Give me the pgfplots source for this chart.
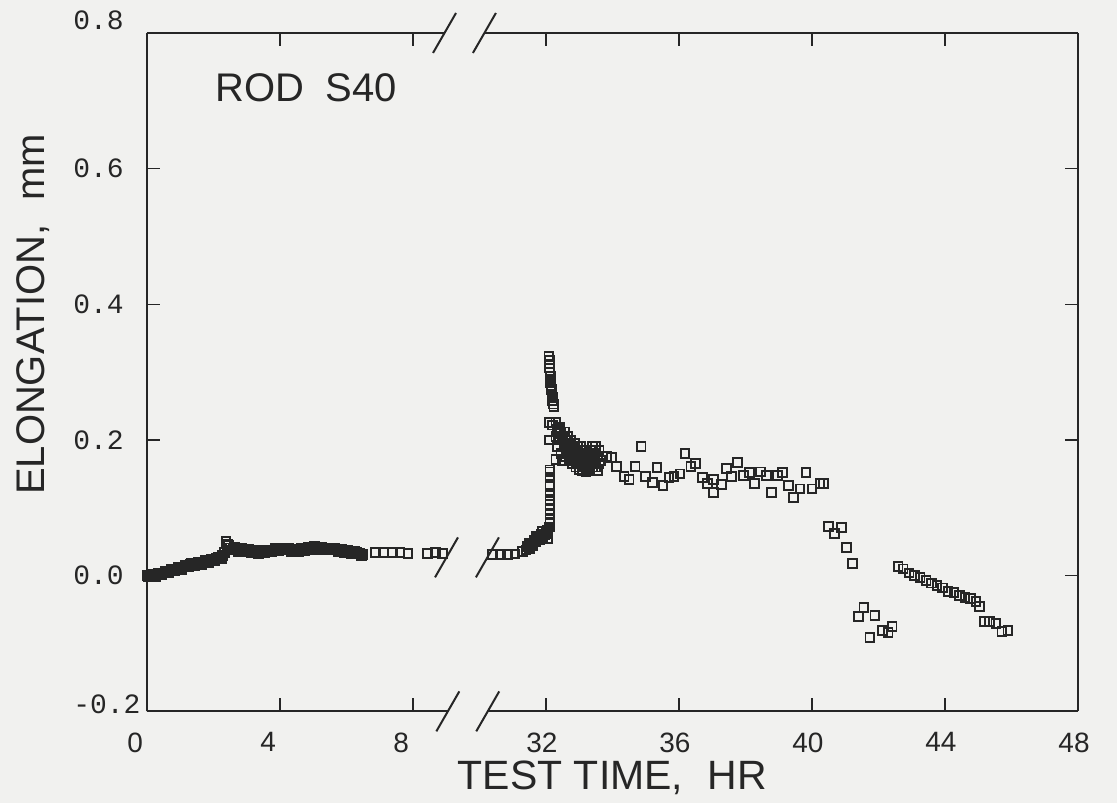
\documentclass[border=0pt]{standalone}
\usepackage{pgfplots}
\pgfplotsset{compat=1.18}
\usepackage{fontspec}
\setmainfont{Liberation Sans}
\newfontfamily\monofont{Liberation Mono}
\definecolor{ink}{gray}{0.15}
\definecolor{paper}{RGB}{241,241,239}

\pgfplotstableread{
hr val
0.00 0.000
0.05 -0.002
0.10 0.000
0.15 0.002
0.20 0.001
0.25 -0.001
0.30 0.001
0.35 0.003
0.40 0.003
0.45 0.001
0.50 0.004
0.55 0.006
0.60 0.006
0.65 0.004
0.70 0.007
0.75 0.009
0.80 0.009
0.85 0.007
0.90 0.010
0.95 0.012
1.00 0.011
1.05 0.009
1.10 0.013
1.15 0.015
1.20 0.015
1.25 0.013
1.30 0.016
1.35 0.018
1.40 0.017
1.45 0.015
1.50 0.018
1.55 0.020
1.60 0.019
1.65 0.017
1.70 0.020
1.75 0.022
1.80 0.021
1.85 0.019
1.90 0.022
1.95 0.024
2.00 0.024
2.05 0.022
2.10 0.025
2.15 0.027
2.20 0.027
2.25 0.025
2.28 0.030
2.33 0.034
2.38 0.050
2.42 0.046
2.45 0.044
2.50 0.041
2.55 0.038
2.60 0.040
2.65 0.042
2.70 0.039
2.75 0.036
2.80 0.038
2.85 0.040
2.90 0.038
2.95 0.035
3.00 0.037
3.05 0.039
3.10 0.036
3.15 0.034
3.20 0.035
3.25 0.037
3.30 0.035
3.35 0.033
3.40 0.035
3.45 0.037
3.50 0.036
3.55 0.034
3.60 0.036
3.65 0.038
3.70 0.037
3.75 0.035
3.80 0.038
3.85 0.040
3.90 0.039
3.95 0.037
4.00 0.039
4.05 0.041
4.10 0.040
4.15 0.038
4.20 0.039
4.25 0.041
4.30 0.038
4.35 0.036
4.40 0.037
4.45 0.039
4.50 0.038
4.55 0.036
4.60 0.038
4.65 0.040
4.70 0.039
4.75 0.037
4.80 0.040
4.85 0.042
4.90 0.041
4.95 0.039
5.00 0.041
5.05 0.043
5.10 0.040
5.15 0.038
5.20 0.041
5.25 0.042
5.30 0.040
5.35 0.038
5.40 0.039
5.45 0.041
5.50 0.040
5.55 0.038
5.60 0.039
5.65 0.041
5.70 0.038
5.75 0.036
5.80 0.037
5.85 0.039
5.90 0.036
5.95 0.034
6.00 0.036
6.05 0.037
6.10 0.035
6.15 0.033
6.20 0.035
6.25 0.036
6.30 0.034
6.35 0.032
6.40 0.033
6.45 0.030
6.50 0.031
6.87 0.034
7.11 0.034
7.38 0.034
7.61 0.034
7.85 0.033
8.44 0.033
8.67 0.034
8.89 0.033
30.39 0.031
30.63 0.031
30.84 0.031
31.07 0.032
31.30 0.036
31.40 0.038
31.45 0.043
31.50 0.040
31.50 0.048
31.55 0.044
31.60 0.045
31.65 0.052
31.70 0.050
31.70 0.058
31.75 0.055
31.80 0.053
31.85 0.061
31.90 0.057
31.90 0.065
31.95 0.060
32.00 0.062
32.05 0.067
32.05 0.055
32.10 0.072
32.12 0.078
32.12 0.083
32.12 0.090
32.12 0.097
32.12 0.105
32.12 0.112
32.12 0.122
32.12 0.131
32.12 0.134
32.12 0.145
32.12 0.153
32.12 0.156
32.30 0.171
32.10 0.200
32.10 0.226
32.09 0.323
32.10 0.318
32.11 0.312
32.11 0.306
32.12 0.300
32.13 0.294
32.13 0.289
32.14 0.284
32.15 0.279
32.16 0.274
32.18 0.268
32.19 0.263
32.20 0.258
32.22 0.253
32.24 0.249
32.20 0.222
32.30 0.226
32.30 0.205
32.35 0.215
32.40 0.218
32.40 0.200
32.45 0.210
32.50 0.205
32.55 0.212
32.55 0.195
32.60 0.200
32.65 0.205
32.65 0.185
32.70 0.195
32.75 0.200
32.75 0.180
32.80 0.190
32.85 0.195
32.85 0.172
32.90 0.185
32.95 0.190
32.95 0.168
33.00 0.180
33.05 0.190
33.05 0.165
33.10 0.175
33.15 0.185
33.15 0.160
33.20 0.170
33.25 0.180
33.25 0.158
33.30 0.165
33.35 0.175
33.35 0.185
33.40 0.160
33.45 0.170
33.45 0.180
33.50 0.160
33.55 0.175
33.55 0.155
33.60 0.165
33.65 0.170
33.50 0.190
33.60 0.185
33.40 0.190
32.35 0.190
32.45 0.180
32.50 0.170
32.60 0.175
32.70 0.170
32.80 0.165
32.90 0.160
33.00 0.157
33.10 0.155
33.20 0.153
33.30 0.155
32.70 0.185
32.90 0.175
33.83 0.176
33.98 0.174
34.13 0.161
34.35 0.146
34.50 0.142
34.68 0.161
34.86 0.190
35.00 0.146
35.20 0.137
35.34 0.159
35.52 0.133
35.70 0.145
35.85 0.146
36.03 0.150
36.18 0.180
36.36 0.161
36.50 0.165
36.70 0.145
36.85 0.136
37.03 0.142
37.03 0.123
37.27 0.134
37.42 0.158
37.58 0.146
37.76 0.167
37.94 0.148
38.12 0.152
38.27 0.136
38.45 0.153
38.64 0.148
38.79 0.123
38.97 0.148
39.12 0.152
39.30 0.133
39.45 0.115
39.64 0.128
39.82 0.152
40.00 0.128
40.24 0.136
40.34 0.136
40.49 0.073
40.67 0.062
40.89 0.071
41.04 0.042
41.22 0.018
41.40 -0.060
41.56 -0.047
41.74 -0.091
41.89 -0.059
42.11 -0.081
42.29 -0.084
42.41 -0.075
42.59 0.014
42.74 0.010
42.92 0.004
43.09 0.000
43.25 -0.003
43.43 -0.007
43.60 -0.011
43.76 -0.014
43.93 -0.018
44.09 -0.023
44.27 -0.025
44.44 -0.029
44.60 -0.032
44.77 -0.034
44.93 -0.038
45.03 -0.045
45.19 -0.068
45.34 -0.068
45.53 -0.070
45.71 -0.082
45.89 -0.081
}\rodS

\begin{document}
\begin{tikzpicture}
\path[use as bounding box, fill=paper] (-73.5pt,-46pt) rectangle (485.5pt,356pt);
\begin{axis}[
  at={(0pt,0pt)}, anchor=south west,
  scale only axis, width=466pt, height=339.5pt,
  xmin=0, xmax=28, ymin=-0.2, ymax=0.8,
  xtick={0,4,...,28}, xticklabels={0,4,8,32,36,40,44,48},
  ytick={-0.2,0,0.2,0.4,0.6,0.8},
  yticklabels={\raisebox{3.5pt}[\height][\depth]{-0.2},0.0,0.2,0.4,0.6,\raisebox{6.5pt}[\height][\depth]{0.8}},
  axis line style={draw=none},
  tick style={ink, line width=0.7pt},
  major tick length=6.5pt,
  tick align=inside,
  xticklabel style={font=\fontsize{14}{14}\selectfont, text=ink, anchor=north west, inner sep=0pt, xshift=-10pt, yshift=-10.5pt},
  yticklabel style={font=\monofont\fontsize{14}{14}\selectfont, text=ink, anchor=west, inner sep=0pt, xshift=-37pt},
  clip=false,
  x filter/.expression={x>20 ? x-20 : x},
]
\addplot[only marks, mark=square, mark size=2.2pt, mark options={draw=ink, line width=0.95pt}] table[x=hr, y=val] {\rodS};

% frame with breaks
\draw[ink, line width=0.9pt] (axis cs:0,-0.2) -- (axis cs:0,0.8);
\draw[ink, line width=0.9pt] (axis cs:28,-0.2) -- (axis cs:28,0.8);
\draw[ink, line width=0.9pt] (axis cs:0,-0.2) -- (axis cs:9.05,-0.2);
\draw[ink, line width=0.9pt] (axis cs:10.25,-0.2) -- (axis cs:28,-0.2);
\draw[ink, line width=0.9pt] (axis cs:0,0.8) -- (axis cs:8.95,0.8);
\draw[ink, line width=0.9pt] (axis cs:10.15,0.8) -- (axis cs:28,0.8);
% break slashes
\draw[ink, line width=1pt] ([shift={(-5.75pt,-10pt)}]axis cs:9.05,-0.2) -- ([shift={(5.75pt,10pt)}]axis cs:9.05,-0.2);
\draw[ink, line width=1pt] ([shift={(-5.75pt,-10pt)}]axis cs:10.25,-0.2) -- ([shift={(5.75pt,10pt)}]axis cs:10.25,-0.2);
\draw[ink, line width=1pt] ([shift={(-5.75pt,-10pt)}]axis cs:8.95,0.8) -- ([shift={(5.75pt,10pt)}]axis cs:8.95,0.8);
\draw[ink, line width=1pt] ([shift={(-5.75pt,-10pt)}]axis cs:10.15,0.8) -- ([shift={(5.75pt,10pt)}]axis cs:10.15,0.8);
\draw[ink, line width=1pt] ([shift={(-5.75pt,-10pt)}]axis cs:9.01,0.027) -- ([shift={(5.75pt,10pt)}]axis cs:9.01,0.027);
\draw[ink, line width=1pt] ([shift={(-5.75pt,-10pt)}]axis cs:10.24,0.027) -- ([shift={(5.75pt,10pt)}]axis cs:10.24,0.027);
% texts
\node[anchor=base west, inner sep=0pt, text=ink, font=\fontsize{20}{20}\selectfont] at ([shift={(34pt,-34.5pt)}]rel axis cs:0,1) {ROD\hspace{0.55em}S40};
\node[anchor=north, inner sep=0pt, text=ink, font=\fontsize{20.5}{20.5}\selectfont] at ([yshift=-24.5pt]rel axis cs:0.5,0) {TEST TIME,\hspace{0.6em}HR};
\node[rotate=90, anchor=base, inner sep=0pt, text=ink, font=\fontsize{20}{20}\selectfont] at ([xshift=-51pt]rel axis cs:0,0.585) {ELONGATION,\hspace{0.6em}mm};
\end{axis}
\end{tikzpicture}
\end{document}
